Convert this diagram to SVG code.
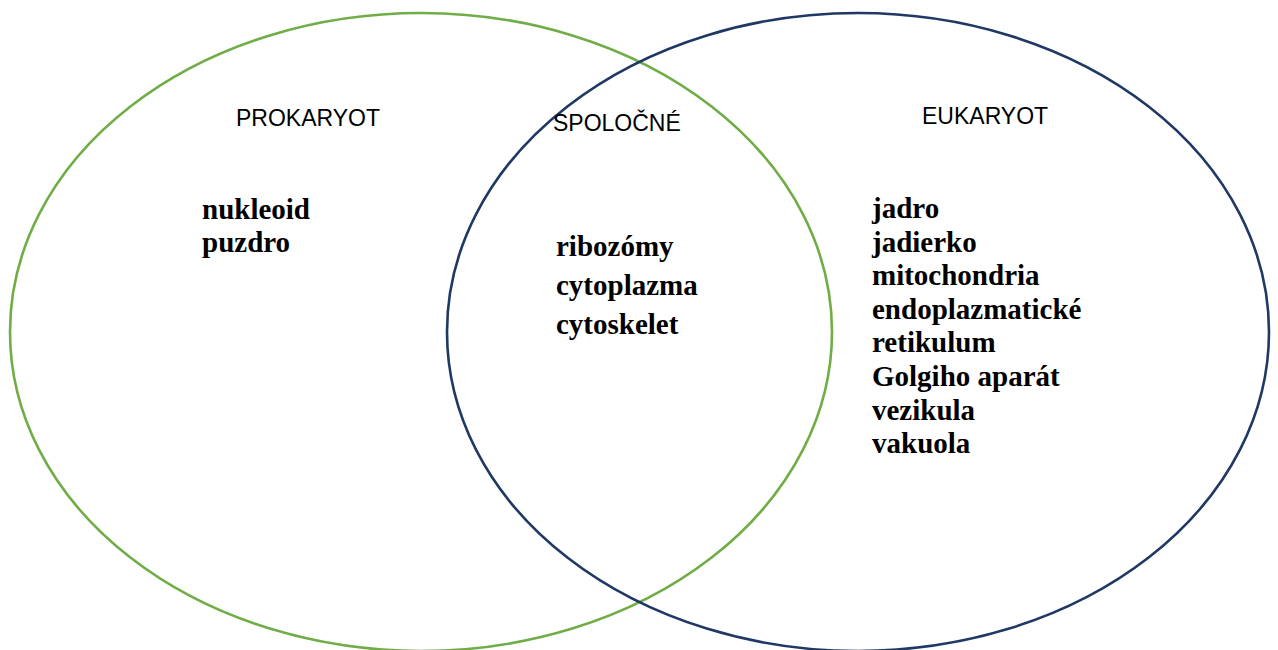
<svg xmlns="http://www.w3.org/2000/svg" width="1278" height="650" viewBox="0 0 1278 650">
<style>
.bg{fill:#ffffff}
.set{fill:none;stroke-width:2.6}
.pro{stroke:#70AD47}
.euk{stroke:#1F3864}
.head{font-family:"Liberation Sans",Arial,sans-serif;font-size:23px;fill:#000}
.item{font-family:"Liberation Serif","Times New Roman",serif;font-size:29px;font-weight:bold;fill:#000}
</style>
<rect class="bg" x="0" y="0" width="1278" height="650"/>
<g id="prokaryot">
<ellipse class="set pro" cx="421" cy="332" rx="411" ry="319"/>
<text class="head" x="236" y="126">PROKARYOT</text>
<text class="item" x="202" y="219">nukleoid</text>
<text class="item" x="202" y="252">puzdro</text>
</g>
<g id="eukaryot">
<ellipse class="set euk" cx="858" cy="332" rx="411" ry="319"/>
<text class="head" x="922" y="124">EUKARYOT</text>
<text class="item" x="872" y="218">jadro</text>
<text class="item" x="872" y="251.6">jadierko</text>
<text class="item" x="872" y="285.2">mitochondria</text>
<text class="item" x="872" y="318.8">endoplazmatické</text>
<text class="item" x="872" y="352.4">retikulum</text>
<text class="item" x="872" y="386">Golgiho aparát</text>
<text class="item" x="872" y="419.6">vezikula</text>
<text class="item" x="872" y="453.2">vakuola</text>
</g>
<g id="spolocne">
<text class="head" x="553" y="131">SPOLOČNÉ</text>
<text class="item" x="556" y="256">ribozómy</text>
<text class="item" x="556" y="295">cytoplazma</text>
<text class="item" x="556" y="334">cytoskelet</text>
</g>
<g id="connectors"></g>
</svg>
